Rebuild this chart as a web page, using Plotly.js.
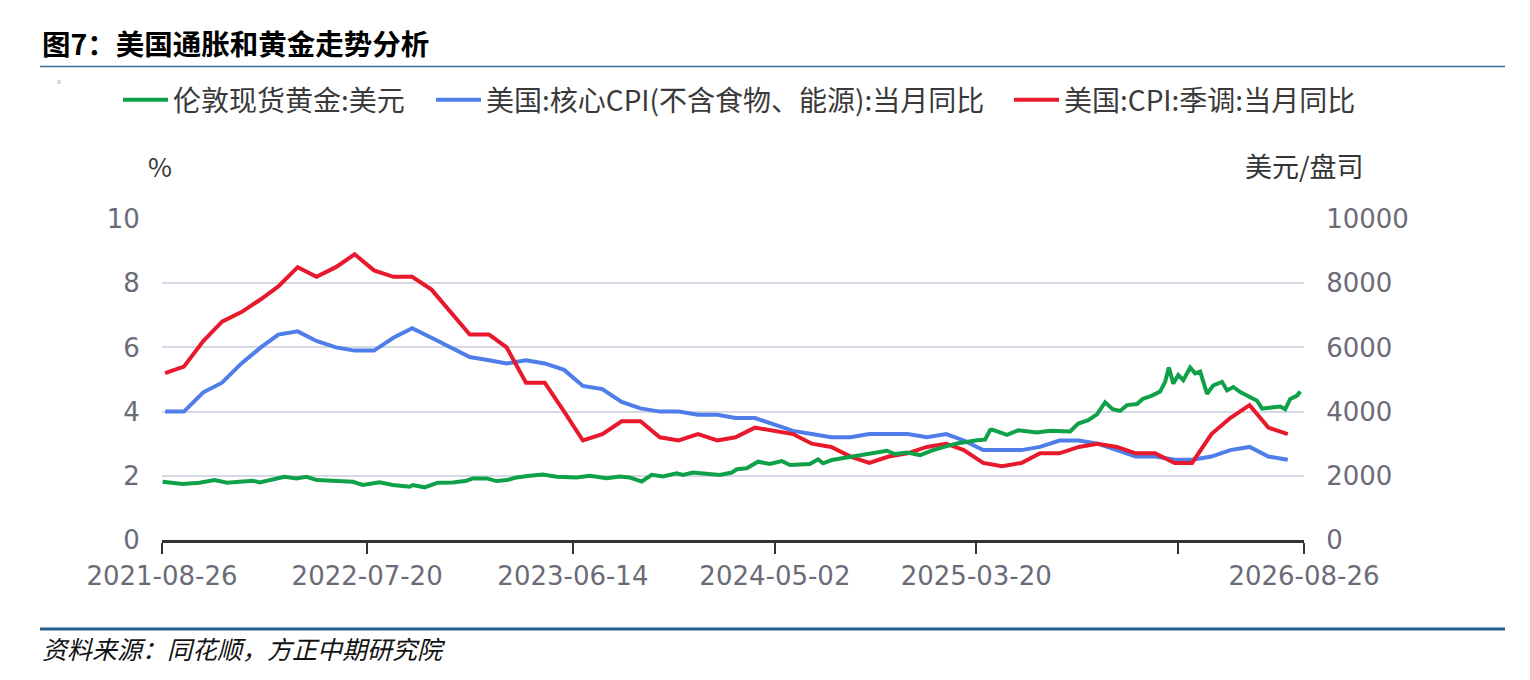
<!DOCTYPE html>
<html>
<head>
<meta charset="utf-8">
<script src="https://cdn.plot.ly/plotly-3.0.1.min.js"></script>
<style>
  body { margin: 0; background: #fff; }
  #chart_container { width: 1530px; height: 680px; }
</style>
</head>
<body>
<div id="chart_container"></div>
<script>
// CPI series are monthly, first month = 2021-08, plotted at month end
var cpi_start = [2021, 8]
var core_cpi = [4.0, 4.0, 4.6, 4.9, 5.5,
    6.0, 6.4, 6.5, 6.2, 6.0, 5.9, 5.9, 6.3, 6.6, 6.3, 6.0, 5.7,
    5.6, 5.5, 5.6, 5.5, 5.3, 4.8, 4.7, 4.3, 4.1, 4.0, 4.0, 3.9,
    3.9, 3.8, 3.8, 3.6, 3.4, 3.3, 3.2, 3.2, 3.3, 3.3, 3.3, 3.2,
    3.3, 3.1, 2.8, 2.8, 2.8, 2.9, 3.1, 3.1, 3.0, 2.8, 2.6, 2.6,
    2.5, 2.5, 2.6, 2.8, 2.9, 2.6, 2.5]
var cpi_sa = [5.2, 5.4, 6.2, 6.8, 7.1,
    7.5, 7.9, 8.5, 8.2, 8.5, 8.9, 8.4, 8.2, 8.2, 7.8, 7.1, 6.4,
    6.4, 6.0, 4.9, 4.9, 4.0, 3.1, 3.3, 3.7, 3.7, 3.2, 3.1, 3.3,
    3.1, 3.2, 3.5, 3.4, 3.3, 3.0, 2.9, 2.6, 2.4, 2.6, 2.7, 2.9,
    3.0, 2.8, 2.4, 2.3, 2.4, 2.7, 2.7, 2.9, 3.0, 2.9, 2.7, 2.7,
    2.4, 2.4, 3.3, 3.8, 4.2, 3.5, 3.3]

// London spot gold, USD/oz
var gold_dates = ['2021-08-27','2021-09-28','2021-10-25','2021-11-18','2021-12-08','2021-12-29',
    '2022-01-18','2022-01-29','2022-02-19','2022-03-10','2022-03-29','2022-04-14','2022-05-01','2022-06-06',
    '2022-06-27','2022-07-13','2022-08-09','2022-08-30','2022-09-26','2022-10-01','2022-10-20','2022-11-10',
    '2022-12-04','2022-12-26',
    '2023-01-05','2023-01-27','2023-02-12','2023-03-01','2023-03-16','2023-04-06','2023-04-27','2023-05-19',
    '2023-06-20','2023-07-11','2023-08-07','2023-08-28','2023-09-13','2023-09-24','2023-10-02','2023-10-18',
    '2023-11-05','2023-11-27','2023-12-07','2023-12-23',
    '2024-01-14','2024-02-04','2024-02-23','2024-03-02','2024-03-18','2024-04-05','2024-04-24','2024-05-13',
    '2024-05-26','2024-06-27','2024-07-10','2024-07-18','2024-08-01','2024-08-25','2024-09-15','2024-10-12',
    '2024-10-28','2024-11-10','2024-11-29','2024-12-20',
    '2025-01-10','2025-02-01','2025-02-17','2025-03-21','2025-04-03','2025-04-11','2025-04-14','2025-04-27',
    '2025-05-08','2025-05-26','2025-06-09','2025-06-25','2025-07-16','2025-08-01','2025-08-17','2025-08-30',
    '2025-09-15','2025-09-29','2025-10-12','2025-10-24','2025-11-05','2025-11-16','2025-12-02','2025-12-11',
    '2025-12-26',
    '2026-01-08','2026-01-16','2026-01-22','2026-01-29','2026-02-06','2026-02-14','2026-02-25','2026-03-05',
    '2026-03-13','2026-03-24','2026-04-03','2026-04-17','2026-04-25','2026-05-05','2026-05-16','2026-06-01',
    '2026-06-12','2026-06-20','2026-07-03','2026-07-19','2026-07-27','2026-08-04','2026-08-15','2026-08-20']
var gold_price = [1815, 1744, 1785, 1867, 1785, 1815,
    1846, 1795, 1897, 1969, 1918, 1969, 1867, 1846, 1815, 1713, 1795, 1713, 1662, 1713, 1641, 1785, 1795, 1846,
    1918, 1918, 1836, 1867, 1949, 2000, 2041, 1969, 1949, 2000, 1925, 1977, 1946, 1874, 1823, 2029, 1977, 2080,
    2029, 2101,
    2060, 2029, 2101, 2204, 2235, 2440, 2368, 2461, 2338, 2368, 2512, 2389, 2492, 2564, 2646, 2718, 2780, 2677,
    2728, 2646,
    2800, 2924, 3006, 3109, 3130, 3418, 3436, 3351, 3277, 3415, 3383, 3351, 3404, 3383, 3383, 3628, 3734, 3915,
    4287, 4074, 4021, 4202, 4234, 4394, 4500,
    4628, 4926, 5372, 4872, 5138, 4979, 5372, 5191, 5245, 4553, 4819, 4926, 4660, 4766, 4606, 4447, 4340, 4096,
    4128, 4160, 4074, 4394, 4500, 4628]

// x axis ticks (one unlabeled tick before the end)
var x_range = ['2021-08-26', '2026-08-26']
var tick_dates = ['2021-08-26', '2022-07-20', '2023-06-14', '2024-05-02', '2025-03-20', '2026-02-05', '2026-08-26']
var tick_labels = ['2021-08-26', '2022-07-20', '2023-06-14', '2024-05-02', '2025-03-20', '', '2026-08-26']

var series_names = ['伦敦现货黄金:美元', '美国:核心CPI(不含食物、能源):当月同比', '美国:CPI:季调:当月同比']
var series_colors = ['#0fa14a', '#4f7de9', '#e8182d']

// month end date string for the k-th CPI month
function month_end(k){
    var d = new Date(Date.UTC(cpi_start[0], cpi_start[1] - 1 + k + 1, 0))
    return d.toISOString().slice(0, 10)
}
var cpi_dates = core_cpi.map(function(v, k){ return month_end(k) })

/*********************************************************
* helpers : pixel position -> paper coords of the plot box
*********************************************************/
var plot_l = 162, plot_r = 1304, plot_t = 219, plot_b = 540
function px(x){ return (x - plot_l) / (plot_r - plot_l) }
function py(y){ return (plot_b - y) / (plot_b - plot_t) }

var font_family = '"Noto Sans CJK SC", "Noto Sans", sans-serif'
var tick_family = '"DejaVu Sans", sans-serif'

var gold = {
    x : gold_dates,
    y : gold_price,
    yaxis : 'y2',
    mode : 'lines',
    name : series_names[0],
    legend : 'legend',
    line : {color : series_colors[0], width : 4}
}
var core = {
    x : cpi_dates,
    y : core_cpi,
    mode : 'lines',
    name : series_names[1],
    legend : 'legend2',
    line : {color : series_colors[1], width : 4}
}
var cpi = {
    x : cpi_dates,
    y : cpi_sa,
    mode : 'lines',
    name : series_names[2],
    legend : 'legend3',
    line : {color : series_colors[2], width : 4}
}

// one legend box per series so each entry sits where it does in the source
function legend_at(x_pixel){
    return {
        orientation : 'h',
        x : px(x_pixel), xanchor : 'left',
        y : py(100), yanchor : 'middle',
        font : {size : 28, color : '#3a3a3a'},
        itemwidth : 45,
        bgcolor : 'rgba(0,0,0,0)'
    }
}

var tick_font = {family : tick_family, size : 26, color : '#6b6b78'}

var layout = {
    width : 1530,
    height : 680,
    margin : {l : plot_l, r : 1530 - plot_r, t : plot_t, b : 680 - plot_b, pad : 0},
    paper_bgcolor : '#fff',
    plot_bgcolor : '#fff',
    font : {family : font_family, color : '#333'},
    showlegend : true,
    legend : legend_at(118),
    legend2 : legend_at(431),
    legend3 : legend_at(1009),
    xaxis : {
        type : 'date',
        range : x_range,
        tickvals : tick_dates,
        ticktext : tick_labels,
        ticks : 'outside', ticklen : 11, tickwidth : 2, tickcolor : '#333',
        showline : true, linecolor : '#333', linewidth : 2.5,
        showgrid : false, zeroline : false,
        tickfont : tick_font,
        fixedrange : true
    },
    yaxis : {
        range : [0, 10], dtick : 2,
        showgrid : true, gridcolor : '#d6d9e3', gridwidth : 2,
        zeroline : false, showline : false,
        ticks : 'outside', ticklen : 16, tickcolor : 'rgba(0,0,0,0)',
        tickfont : tick_font,
        fixedrange : true
    },
    yaxis2 : {
        overlaying : 'y', side : 'right',
        range : [0, 10000], dtick : 2000, tickformat : 'd',
        showgrid : false, zeroline : false, showline : false,
        ticks : 'outside', ticklen : 16, tickcolor : 'rgba(0,0,0,0)',
        tickfont : tick_font,
        fixedrange : true
    },
    annotations : [
        {xref : 'paper', yref : 'paper', x : px(40), y : py(43), xanchor : 'left', yanchor : 'middle',
         text : '<b>图7：美国通胀和黄金走势分析</b>', showarrow : false, font : {size : 28.5, color : '#000'}},
        {xref : 'paper', yref : 'paper', x : px(160), y : py(165), xanchor : 'center', yanchor : 'middle',
         text : '%', showarrow : false, font : {size : 26, color : '#333'}},
        {xref : 'paper', yref : 'paper', x : px(1304), y : py(165), xanchor : 'center', yanchor : 'middle',
         text : '美元/盘司', showarrow : false, font : {size : 27, color : '#333'}},
        {xref : 'paper', yref : 'paper', x : px(40), y : py(648), xanchor : 'left', yanchor : 'middle',
         text : '<i>资料来源：同花顺，方正中期研究院</i>', showarrow : false, font : {size : 25, color : '#111'}}
    ],
    shapes : [
        {type : 'line', xref : 'paper', yref : 'paper', x0 : px(40), x1 : px(1505), y0 : py(66.5), y1 : py(66.5),
         line : {color : '#3d6f9c', width : 1.5}},
        {type : 'line', xref : 'paper', yref : 'paper', x0 : px(40), x1 : px(1505), y0 : py(629), y1 : py(629),
         line : {color : '#22608f', width : 3}},
        {type : 'rect', xref : 'paper', yref : 'paper', x0 : px(57), x1 : px(61), y0 : py(84), y1 : py(80),
         fillcolor : '#dadada', line : {width : 0}}
    ]
}

var chart_container = document.getElementById('chart_container')
Plotly.newPlot(chart_container, [gold, core, cpi], layout, {displayModeBar : false, staticPlot : true})
</script>
</body>
</html>
